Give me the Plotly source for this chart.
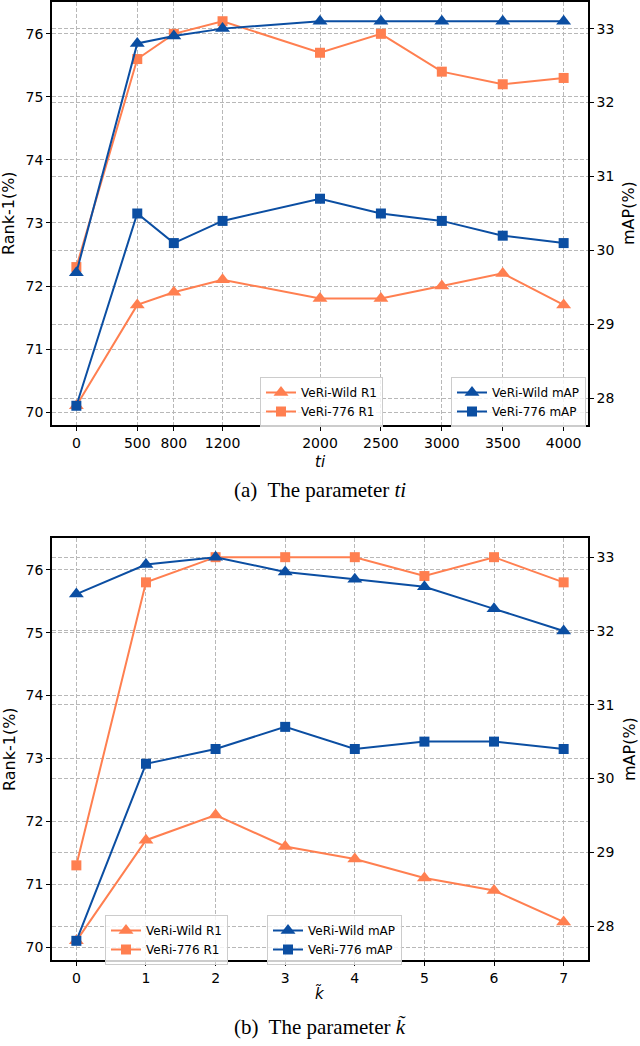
import plotly.graph_objects as go

# ---- data: (a) parameter ti ----
ti_vals = [0, 500, 800, 1200, 2000, 2500, 3000, 3500, 4000]
a_wild_r1 = [70.1, 71.7, 71.9, 72.1, 71.8, 71.8, 72.0, 72.2, 71.7]
a_776_r1 = [72.3, 75.6, 76.0, 76.2, 75.7, 76.0, 75.4, 75.2, 75.3]
a_wild_map = [29.7, 32.8, 32.9, 33.0, 33.1, 33.1, 33.1, 33.1, 33.1]
a_776_map = [27.9, 30.5, 30.1, 30.4, 30.7, 30.5, 30.4, 30.2, 30.1]

# ---- data: (b) parameter k ----
k_vals = [0, 1, 2, 3, 4, 5, 6, 7]
b_wild_r1 = [70.1, 71.7, 72.1, 71.6, 71.4, 71.1, 70.9, 70.4]
b_776_r1 = [71.3, 75.8, 76.2, 76.2, 76.2, 75.9, 76.2, 75.8]
b_wild_map = [32.5, 32.9, 33.0, 32.8, 32.7, 32.6, 32.3, 32.0]
b_776_map = [27.8, 30.2, 30.4, 30.7, 30.4, 30.5, 30.5, 30.4]

r1_ticks = [70, 71, 72, 73, 74, 75, 76]
map_ticks = [28, 29, 30, 31, 32, 33]

ORANGE = "#FF7F50"
BLUE = "#0B4EA2"
W, H = 640, 1046
FONT = "DejaVu Sans"
SERIF = "Liberation Serif"

fig = go.Figure()


def add(x, y, name, color, symbol, size, xa, ya, leg):
    fig.add_trace(go.Scatter(
        x=x, y=y, name=name, mode="lines+markers",
        line=dict(color=color, width=2),
        marker=dict(symbol=symbol, size=size, color=color, line=dict(width=0)),
        xaxis=xa, yaxis=ya, legend=leg))


add(ti_vals, a_wild_r1, "VeRi-Wild R1", ORANGE, "triangle-up", 13, "x", "y", "legend")
add(ti_vals, a_776_r1, "VeRi-776 R1", ORANGE, "square", 10, "x", "y", "legend")
add(ti_vals, a_wild_map, "VeRi-Wild mAP", BLUE, "triangle-up", 13, "x", "y2", "legend2")
add(ti_vals, a_776_map, "VeRi-776 mAP", BLUE, "square", 10, "x", "y2", "legend2")

add(k_vals, b_wild_r1, "VeRi-Wild R1", ORANGE, "triangle-up", 13, "x2", "y3", "legend3")
add(k_vals, b_776_r1, "VeRi-776 R1", ORANGE, "square", 10, "x2", "y3", "legend3")
add(k_vals, b_wild_map, "VeRi-Wild mAP", BLUE, "triangle-up", 13, "x2", "y4", "legend4")
add(k_vals, b_776_map, "VeRi-776 mAP", BLUE, "square", 10, "x2", "y4", "legend4")


def px(x):
    return x / W


def py(y):
    return 1 - y / H


xdom = [px(52), px(588)]
topdom = [py(425), py(2)]
botdom = [py(960), py(538)]

grid = dict(showgrid=True, gridcolor="#b8b8b8", gridwidth=1, griddash="4px,2px")
axbase = dict(showline=True, linecolor="black", linewidth=1.6, ticks="outside",
              ticklen=4, tickwidth=1.2, tickcolor="black", zeroline=False,
              tickfont=dict(family=FONT, size=14, color="black"), **grid)

fig.update_layout(
    width=W, height=H, margin=dict(l=0, r=0, t=0, b=0),
    plot_bgcolor="white", paper_bgcolor="white",
    font=dict(family=FONT, color="black"),
    xaxis=dict(domain=xdom, anchor="y", range=[-200, 4200], tickvals=ti_vals,
               ticktext=[str(v) for v in ti_vals], mirror=True, **axbase),
    yaxis=dict(domain=topdom, anchor="x", range=[69.795, 76.505], tickvals=r1_ticks,
               **axbase),
    yaxis2=dict(overlaying="y", side="right", anchor="x", range=[27.64, 33.36],
                tickvals=map_ticks, **axbase),
    xaxis2=dict(domain=xdom, anchor="y3", range=[-0.35, 7.35], tickvals=k_vals,
                mirror=True, **axbase),
    yaxis3=dict(domain=botdom, anchor="x2", range=[69.795, 76.505], tickvals=r1_ticks,
                **axbase),
    yaxis4=dict(overlaying="y3", side="right", anchor="x2", range=[27.54, 33.26],
                tickvals=map_ticks, **axbase),
)

legstyle = dict(bgcolor="rgba(255,255,255,0.8)", bordercolor="#cccccc", borderwidth=1,
                font=dict(family=FONT, size=12, color="black"), tracegroupgap=0,
                itemwidth=30, xanchor="left", yanchor="top")
fig.update_layout(
    showlegend=True,
    legend=dict(x=px(260), y=py(377), **legstyle),
    legend2=dict(x=px(451), y=py(377), **legstyle),
    legend3=dict(x=px(105), y=py(915), **legstyle),
    legend4=dict(x=px(267), y=py(915), **legstyle),
)


def note(text, x, y, size, family=FONT, angle=0):
    fig.add_annotation(text=text, x=px(x), y=py(y), xref="paper", yref="paper",
                       showarrow=False, textangle=angle,
                       font=dict(family=family, size=size, color="black"),
                       xanchor="center", yanchor="middle")


# axis titles
note("Rank-1(%)", 9, 213, 16, angle=-90)
note("mAP(%)", 629, 213, 16, angle=-90)
note("<i>ti</i>", 320, 462, 15)
note("Rank-1(%)", 9, 749, 16, angle=-90)
note("mAP(%)", 629, 749, 16, angle=-90)
note("<i>k̃</i>", 320, 993, 15)

# captions
note("(a)  The parameter <i>ti</i>", 320, 490, 21, family=SERIF)
note("(b)  The parameter <i>k̃</i>", 320, 1027, 21, family=SERIF)

fig.write_html("out.html",
               config={"displayModeBar": False},
               post_script="document.body.style.margin='0px';"
                           "document.body.style.overflow='hidden';")
